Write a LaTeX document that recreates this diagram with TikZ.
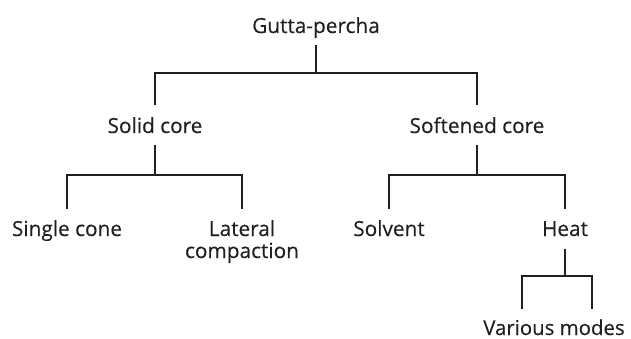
\documentclass[tikz,border=0pt]{standalone}
\usepackage{fontspec}
\setmainfont{Open Sans}[FakeBold=0.3]
\usetikzlibrary{calc}

\definecolor{ink}{RGB}{35,31,32}
\tikzset{
  lbl/.style={font=\fontsize{20.8}{22}\selectfont, text=ink, inner sep=0pt,
    text height=15pt, text depth=0pt, outer ysep=12.5pt, align=center},
  branch/.style={draw=ink, line width=2.7pt}
}

\begin{document}
\begin{tikzpicture}[x=1pt, y=-1pt]
  \useasboundingbox (0,0) rectangle (631,339);

  % The root
  \node[lbl] (gp) at (316,25.5) {Gutta-percha};
  \coordinate (gpj) at (316,73);

  % The two kinds of core
  \node[lbl] (sc) at (155,125.5) {Solid core};
  \node[lbl] (soft) at (477,125.5) {Softened core};
  \draw[branch] (gp.south) -- (gpj);
  \draw[branch] (sc.north) |- (gpj) -| (soft.north);

  % Under the solid core
  \coordinate (scj) at (155,175);
  \node[lbl] (single) at (67,228.5) {Single cone};
  \node[lbl, text height=37pt, anchor=north] (lat) at (242,208.5) {Lateral\\compaction};
  \draw[branch] (sc.south) -- (scj);
  \draw[branch] (single.north) |- (scj) -| (lat.north);

  % Under the softened core
  \coordinate (softj) at (477,175);
  \node[lbl] (solv) at (389,228.5) {Solvent};
  \node[lbl] (heat) at (565,228.5) {Heat};
  \draw[branch] (soft.south) -- (softj);
  \draw[branch] (solv.north) |- (softj) -| (heat.north);

  % Under the heat
  \coordinate (heatj) at (565,276);
  \node[lbl, outer ysep=0pt, font=\fontsize{20.4}{22}\selectfont] (var) at (554,327.5) {Various modes};
  \coordinate (hl) at ($(var.north -| 522,0)+(0,-11.5)$);
  \coordinate (hr) at ($(var.north -| 592,0)+(0,-11.5)$);
  \draw[branch] (heat.south) -- (heatj);
  \draw[branch] (hl) |- (heatj) -| (hr);

\end{tikzpicture}
\end{document}
